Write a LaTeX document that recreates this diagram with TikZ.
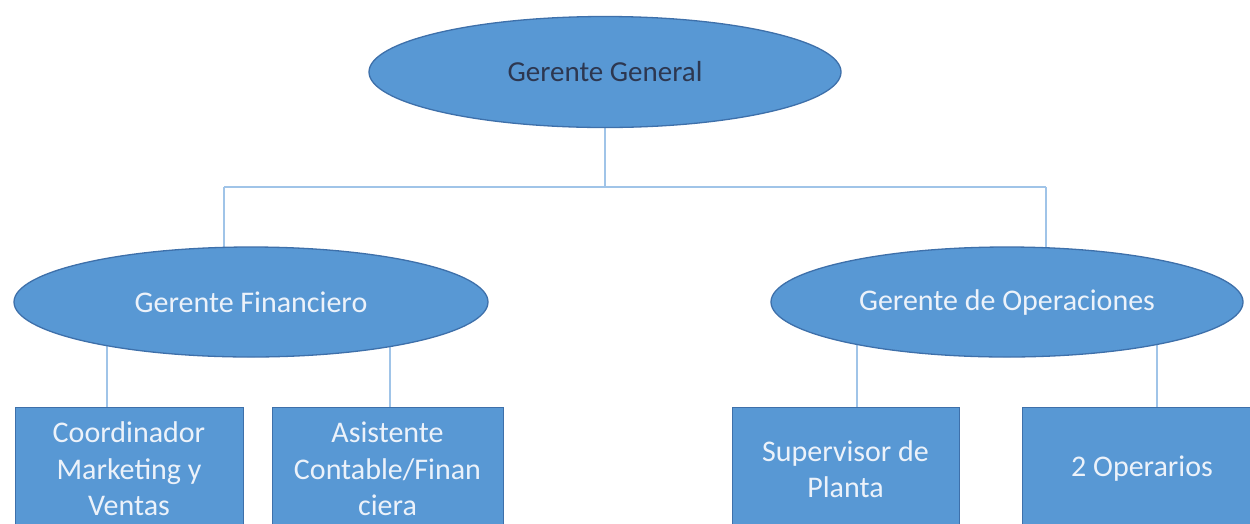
\documentclass[tikz,border=0pt]{standalone}
\usepackage{fontspec}
\setmainfont{Carlito}
\usetikzlibrary{shapes.geometric,backgrounds}
\definecolor{nodefill}{RGB}{88,152,212}
\definecolor{nodeedge}{RGB}{62,112,170}
\definecolor{linkcol}{RGB}{160,196,232}
\definecolor{darktext}{RGB}{45,55,80}
\definecolor{lighttext}{RGB}{236,242,250}
\tikzset{
  oval/.style={ellipse, draw=nodeedge, line width=1.3pt, fill=nodefill, inner sep=0pt, text=lighttext, font=\fontsize{30}{36}\selectfont},
  unitbox/.style={rectangle, draw=nodeedge, line width=1pt, fill=nodefill, inner sep=0pt, text=lighttext, align=center, font=\fontsize{30}{36.5}\selectfont},
  link/.style={draw=linkcol, line width=1.3pt}
}
\begin{document}
\begin{tikzpicture}[x=1pt,y=-1pt]
\useasboundingbox (0,0) rectangle (1250,523);
\clip (0,0) rectangle (1250,523);
% managers
\node[oval, minimum width=472pt, minimum height=111pt, text=darktext, font=\fontsize{29}{34}\selectfont] (gg) at (605,72) {Gerente General};
\node[oval, minimum width=474pt, minimum height=110pt] (gf) at (251,302) {Gerente Financiero};
\node[oval, minimum width=472pt, minimum height=110pt] (go) at (1007,302) {Gerente de Operaciones};
% units
\node[unitbox, minimum width=228pt, minimum height=124pt] (b1) at (129,469) {Coordinador\\Marketing y\\Ventas};
\node[unitbox, minimum width=231pt, minimum height=124pt] (b2) at (387.5,469) {Asistente\\Contable/Finan\\ciera};
\node[unitbox, minimum width=227pt, minimum height=124pt] (b3) at (845.5,469) {Supervisor de\\Planta};
\node[unitbox, minimum width=240pt, minimum height=124pt] (b4) at (1142,469) {2 Operarios};
% junction points
\coordinate (j0) at (605,187);
\coordinate (jl) at (224,187);
\coordinate (jr) at (1046,187);
\coordinate (c1) at (107,407);
\coordinate (c2) at (390,407);
\coordinate (c3) at (857,407);
\coordinate (c4) at (1157,407);
\begin{scope}[on background layer]
\fill[white] (0,0) rectangle (1250,523);
\draw[link] (gg) -- (j0);
\draw[link] (jl) -- (jr);
\draw[link] (jl) -- (jl |- gf.center);
\draw[link] (jr) -- (jr |- go.center);
\draw[link] (c1 |- gf.center) -- (c1);
\draw[link] (c2 |- gf.center) -- (c2);
\draw[link] (c3 |- go.center) -- (c3);
\draw[link] (c4 |- go.center) -- (c4);
\end{scope}
\end{tikzpicture}
\end{document}
